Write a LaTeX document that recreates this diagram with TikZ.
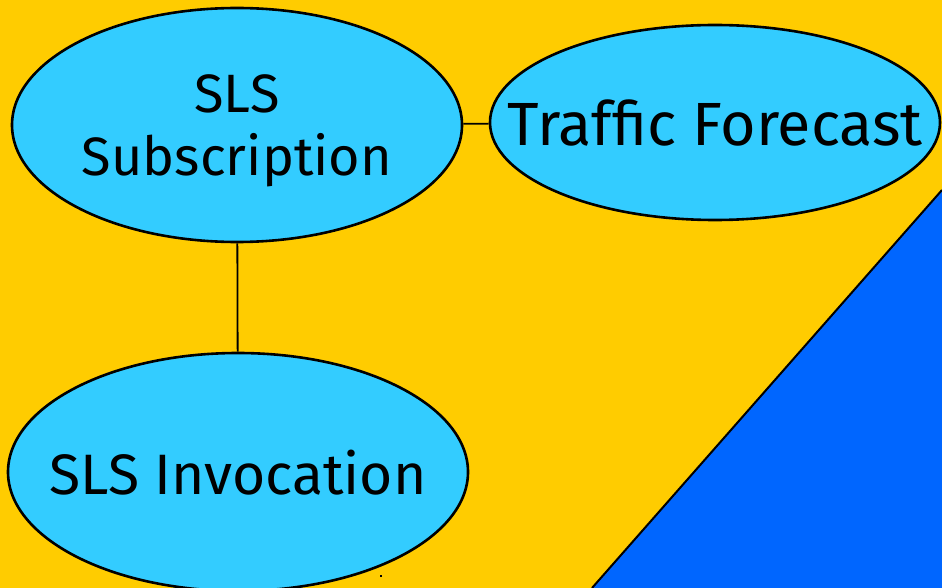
\documentclass[tikz,border=0pt]{standalone}
\usepackage{fontspec}
\setmainfont{Fira Sans}
\usetikzlibrary{shapes.geometric}
\definecolor{bgyellow}{HTML}{FFCC00}
\definecolor{bubble}{HTML}{33CCFF}
\definecolor{wedge}{HTML}{0066FF}
\tikzset{
  bubblenode/.style={ellipse, draw=black, line width=2.6pt, fill=bubble,
    inner sep=0pt},
  bubbletext/.style={align=center, inner sep=0pt, text depth=0pt},
  linkline/.style={draw=black, line width=1.8pt}
}
\begin{document}
\begin{tikzpicture}[x=1pt, y=-1pt]
  \useasboundingbox (0,0) rectangle (942,588);
  \clip (0,0) rectangle (942,588);
  \fill[bgyellow] (0,0) rectangle (942,588);
  % blue wedge in the lower right corner
  \fill[wedge] (592,588) -- (942,190) -- (942,588) -- cycle;
  \draw[line width=2pt] (592,588) -- (942,190);
  % the three service bubbles
  \node[bubblenode, minimum width=450pt, minimum height=234pt,
        label={[bubbletext, font=\fontsize{54}{63}\selectfont]center:SLS\\Subscription}]
        (sub) at (237,125) {};
  \node[bubblenode, minimum width=450pt, minimum height=195pt,
        label={[bubbletext, font=\fontsize{61}{63}\selectfont]center:Traffic Forecast}]
        (fc) at (715,122.5) {};
  \node[bubblenode, minimum width=460pt, minimum height=238pt,
        label={[bubbletext, font=\fontsize{57}{63}\selectfont]center:SLS Invocation}]
        (inv) at (238,472) {};
  % connectors
  \draw[linkline] (sub) -- (fc);
  \draw[linkline] (sub) -- (inv);
  % small speck below the lower bubble
  \fill[black] (380,575) rectangle (382,577);
\end{tikzpicture}
\end{document}
